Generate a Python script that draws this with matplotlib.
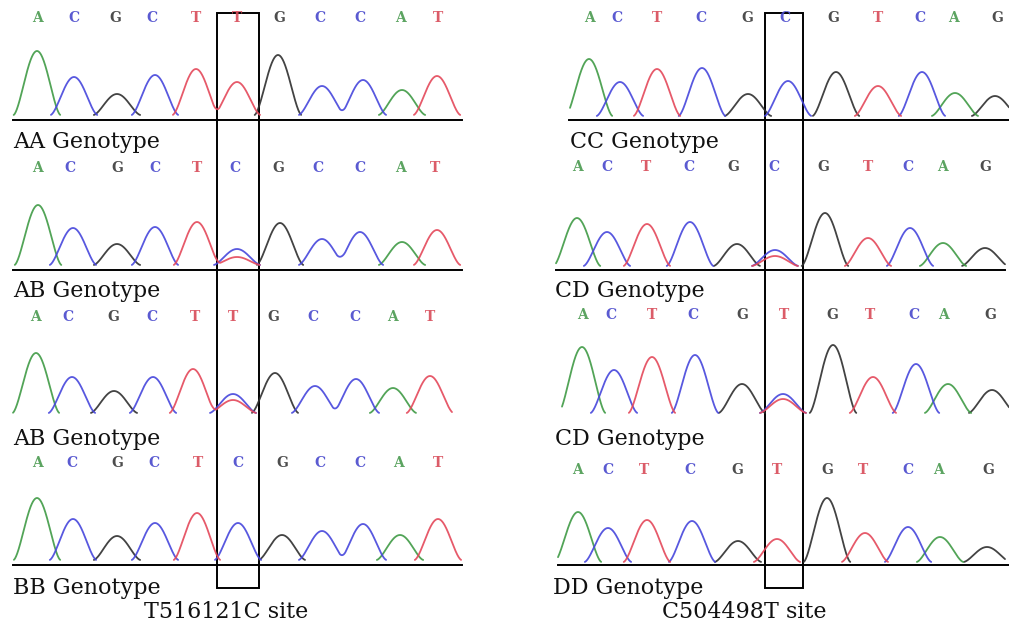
import numpy as np
import matplotlib
matplotlib.use("Agg")
import matplotlib.pyplot as plt
from matplotlib.patches import Rectangle

# ---------------- data ----------------
# peak positions (scan units), base of each peak, peak heights
L1_pos = [37, 74, 117, 155, 196, 237, 278, 322, 363, 402, 437]
L1_base = list("ACGCTTGCCAT")
L1_h = [64, 38, 21, 40, 46, 33, 60, 29, 35, 25, 39]

L2_pos = [38, 73, 117, 155, 197, 237, 237, 280, 322, 360, 402, 437]
L2_base = list("ACGCTCTGCCAT")
L2_h = [60, 37, 21, 38, 43, 16, 8, 42, 26, 33, 23, 35]

L3_pos = [36, 72, 114, 153, 193, 233, 233, 275, 315, 356, 393, 430]
L3_base = list("ACGCTCTGCCAT")
L3_h = [60, 36, 22, 36, 44, 19, 13, 40, 27, 34, 25, 37]

L4_pos = [37, 73, 117, 155, 197, 238, 282, 322, 363, 400, 438]
L4_base = list("ACGCTCGCCAT")
L4_h = [62, 41, 24, 37, 47, 37, 25, 29, 36, 25, 41]

R1_pos = [589, 620, 657, 702, 748, 788, 836, 878, 922, 955, 995]
R1_base = list("ACTCGCGTCAG")
R1_h = [57, 34, 47, 48, 22, 35, 44, 30, 44, 23, 20]

R2_pos = [577, 607, 647, 690, 737, 775, 775, 825, 868, 910, 943, 985]
R2_base = list("ACTCGCTGTCAG")
R2_h = [48, 34, 42, 44, 22, 16, 10, 53, 28, 38, 23, 18]

R3_pos = [582, 614, 652, 695, 742, 783, 783, 833, 873, 916, 948, 992]
R3_base = list("ACTCGCTGTCAG")
R3_h = [66, 43, 56, 58, 29, 19, 14, 68, 36, 49, 29, 23]

R4_pos = [578, 608, 647, 692, 738, 777, 827, 865, 908, 940, 987]
R4_base = list("ACTCGTGTCAG")
R4_h = [50, 34, 42, 41, 21, 23, 64, 29, 35, 25, 15]

# base calls printed above each trace and their positions
L1_calls, L1_cx = "ACGCTTGCCAT", [37, 74, 115, 152, 196, 237, 279, 320, 360, 400, 438]
L2_calls, L2_cx = "ACGCTCGCCAT", [37, 70, 117, 155, 197, 235, 278, 318, 360, 400, 435]
L3_calls, L3_cx = "ACGCTTGCCAT", [35, 68, 113, 152, 195, 233, 273, 313, 355, 392, 430]
L4_calls, L4_cx = "ACGCTCGCCAT", [37, 72, 117, 154, 198, 238, 282, 320, 360, 398, 438]
R1_calls, R1_cx = "ACTCGCGTCAG", [589, 617, 657, 701, 747, 785, 833, 878, 920, 953, 997]
R2_calls, R2_cx = "ACTCGCGTCAG", [577, 607, 646, 689, 733, 774, 823, 868, 908, 942, 985]
R3_calls, R3_cx = "ACTCGTGTCAG", [582, 611, 652, 693, 742, 784, 832, 870, 914, 943, 990]
R4_calls, R4_cx = "ACTCGTGTCAG", [577, 608, 644, 690, 737, 777, 827, 863, 908, 938, 988]

genotypes = ["AA Genotype", "AB Genotype", "AB Genotype", "BB Genotype",
             "CC Genotype", "CD Genotype", "CD Genotype", "DD Genotype"]
site_labels = ["T516121C site", "C504498T site"]

# ---------------- styling / layout ----------------
trace_col = {"A": "#3f9a45", "C": "#4646dc", "G": "#2e2e2e", "T": "#e4485a"}
call_col = {"A": "#4a9a50", "C": "#4848cc", "G": "#3a3a3a", "T": "#d84a58"}
HALF_W = 23.5   # half base-width of a peak
SHAPE_P = 1.6   # peak sharpness exponent

W, H = 1009, 625
fig = plt.figure(figsize=(W / 100, H / 100), dpi=100)
fig.patch.set_facecolor("white")
ax = fig.add_axes([0, 0, 1, 1])
ax.set_xlim(0, W)
ax.set_ylim(H, 0)
ax.axis("off")

panels = [
    # pos, base, h, calls, call x, trace baseline y, x-range, call y, axis line, label (x, y)
    (L1_pos, L1_base, L1_h, L1_calls, L1_cx, 115, (13, 462), 18, (120, 13, 462), (13, 148)),
    (L2_pos, L2_base, L2_h, L2_calls, L2_cx, 265, (13, 462), 168, (270, 13, 462), (13, 297)),
    (L3_pos, L3_base, L3_h, L3_calls, L3_cx, 413, (13, 452), 317, None, (13, 445)),
    (L4_pos, L4_base, L4_h, L4_calls, L4_cx, 560, (13, 462), 463, (565, 13, 462), (13, 594)),
    (R1_pos, R1_base, R1_h, R1_calls, R1_cx, 116, (570, 1009), 18, (120, 569, 1009), (570, 148)),
    (R2_pos, R2_base, R2_h, R2_calls, R2_cx, 266, (556, 1005), 167, (270, 556, 1005), (555, 297)),
    (R3_pos, R3_base, R3_h, R3_calls, R3_cx, 413, (562, 1009), 315, None, (555, 445)),
    (R4_pos, R4_base, R4_h, R4_calls, R4_cx, 562, (558, 1005), 470, (565, 558, 1009), (553, 594)),
]

clip_rect = Rectangle((0, 0), W, 592, transform=ax.transData)


def peak_shape(d):
    d = np.abs(d)
    c = np.cos(np.pi * np.minimum(d, HALF_W) / (2 * HALF_W))
    return np.where(d < HALF_W, np.clip(c, 0, 1) ** SHAPE_P, 0.0)


for i, (pos, base, hts, calls, cx, by, (x0, x1), cy, line, (lx, ly)) in enumerate(panels):
    x = np.linspace(x0, x1, 2000)
    pos_a = np.array(pos, float)
    h_a = np.array(hts, float)
    b_a = np.array(base)
    for ch in "GACT":
        sel = b_a == ch
        if not sel.any():
            continue
        sig = (h_a[sel][None, :] * peak_shape(x[:, None] - pos_a[sel][None, :])).sum(axis=1)
        y = np.where(sig > 0.05, by - sig, np.nan)
        ax.plot(x, y, color=trace_col[ch], lw=1.3, alpha=0.9, solid_capstyle="round")
    for c, xx in zip(calls, cx):
        ax.text(xx, cy, c, color=call_col[c], fontsize=10, family="DejaVu Serif",
                fontweight="bold", ha="center", va="center", alpha=0.9)
    if line is not None:
        ly0, lx0, lx1 = line
        ax.plot([lx0, lx1], [ly0, ly0], color="black", lw=1.4)
    t = ax.text(lx, ly, genotypes[i], fontsize=16, family="DejaVu Serif",
                color="#111111", ha="left", va="baseline")
    t.set_clip_path(clip_rect)

# highlight boxes
for bx0, bx1 in [(217, 259), (765, 803)]:
    ax.add_patch(Rectangle((bx0, 13), bx1 - bx0, 588 - 13, fill=False,
                           edgecolor="black", lw=1.4))

ax.text(226, 618, site_labels[0], fontsize=16, family="DejaVu Serif",
        color="#111111", ha="center", va="baseline")
ax.text(744, 618, site_labels[1], fontsize=16, family="DejaVu Serif",
        color="#111111", ha="center", va="baseline")

fig.savefig("out.png", dpi=100, facecolor="white")
